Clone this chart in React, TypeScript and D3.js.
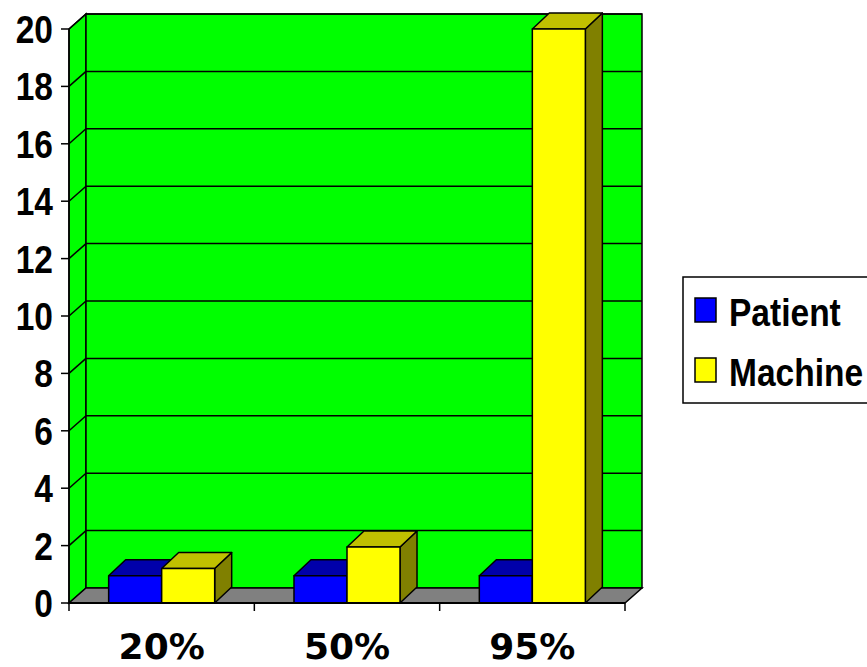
import React from "react";
import * as d3 from "d3";

const categories = ["20%", "50%", "95%"];
const seriesNames = ["Patient", "Machine"];
const patientValues = [0.95, 0.95, 0.95];
const machineValues = [1.2, 1.95, 20];
const yTicks = [0, 2, 4, 6, 8, 10, 12, 14, 16, 18, 20];

const faceColors: Record<string, { front: string; top: string; side: string }> = {
  Patient: { front: "#0000ff", top: "#0000aa", side: "#000080" },
  Machine: { front: "#ffff00", top: "#c0c000", side: "#808000" },
};

const App = () => {
  const width = 867;
  const height = 667;
  // front plane of the plot
  const left = 69;
  const right = 625;
  const bottom = 603;
  const top = 29;
  // depth offset of the 3D box
  const dx = 17;
  const dy = -15;

  const yScale = d3.scaleLinear().domain([0, 20]).range([bottom, top]);
  const xScale = d3.scaleBand().domain(categories).range([left, right]).padding(0);
  const xInner = d3
    .scaleBand()
    .domain(seriesNames)
    .range([0, xScale.bandwidth()])
    .paddingInner(0)
    .paddingOuter(0.748);

  const values: Record<string, number[]> = { Patient: patientValues, Machine: machineValues };

  const poly = (pts: [number, number][]) => pts.map((p) => p.join(",")).join(" ");

  // condensed bold look: Liberation Sans squeezed horizontally
  const sans = "'Liberation Sans', Arial, sans-serif";
  const squeeze = 0.86;

  return (
    <svg width={width} height={height} style={{ display: "block", position: "absolute", left: 0, top: 0 }}>
      <rect width={width} height={height} fill="#fff" />
      {/* left wall */}
      <polygon
        points={poly([
          [left, bottom],
          [left + dx, bottom + dy],
          [left + dx, top + dy],
          [left, top],
        ])}
        fill="#00ff00"
        stroke="#000"
        strokeWidth={1.5}
      />
      {/* back wall */}
      <rect
        x={left + dx}
        y={top + dy}
        width={right - left}
        height={bottom - top}
        fill="#00ff00"
        stroke="#000"
        strokeWidth={1.5}
      />
      {/* gridlines */}
      {yTicks.slice(1).map((t) => (
        <g key={t}>
          <line x1={left} y1={yScale(t)} x2={left + dx} y2={yScale(t) + dy} stroke="#000" strokeWidth={1.5} />
          <line x1={left + dx} y1={yScale(t) + dy} x2={right + dx} y2={yScale(t) + dy} stroke="#000" strokeWidth={1.5} />
        </g>
      ))}
      {/* floor */}
      <polygon
        points={poly([
          [left, bottom],
          [right, bottom],
          [right + dx, bottom + dy],
          [left + dx, bottom + dy],
        ])}
        fill="#808080"
        stroke="#000"
        strokeWidth={1.5}
      />
      {/* bars */}
      {categories.map((c, i) =>
        seriesNames.map((s) => {
          const x0 = (xScale(c) as number) + (xInner(s) as number);
          const x1 = x0 + xInner.bandwidth();
          const yt = yScale(values[s][i]);
          const col = faceColors[s];
          const bdy = -16;
          return (
            <g key={c + s} stroke="#000" strokeWidth={1.5} strokeLinejoin="round">
              <polygon
                points={poly([
                  [x1, yt],
                  [x1 + dx, yt + bdy],
                  [x1 + dx, bottom + bdy],
                  [x1, bottom],
                ])}
                fill={col.side}
              />
              <polygon
                points={poly([
                  [x0, yt],
                  [x0 + dx, yt + bdy],
                  [x1 + dx, yt + bdy],
                  [x1, yt],
                ])}
                fill={col.top}
              />
              <rect x={x0} y={yt} width={x1 - x0} height={bottom - yt} fill={col.front} />
            </g>
          );
        })
      )}
      {/* y axis */}
      <line x1={left} y1={top} x2={left} y2={bottom} stroke="#000" strokeWidth={1.5} />
      {yTicks.map((t) => (
        <g key={t}>
          <line x1={left - 8} y1={yScale(t)} x2={left} y2={yScale(t)} stroke="#000" strokeWidth={1.5} />
          <text
            transform={`translate(53,${yScale(t) + 14}) scale(${squeeze},1)`}
            textAnchor="end"
            fontFamily={sans}
            fontWeight="bold"
            fontSize={39}
            fill="#000"
          >
            {t}
          </text>
        </g>
      ))}
      {/* x axis */}
      <line x1={left} y1={bottom} x2={right} y2={bottom} stroke="#000" strokeWidth={2} />
      {[...categories.map((c) => xScale(c) as number), right].map((x, i) => (
        <line key={i} x1={x} y1={bottom} x2={x} y2={bottom + 8} stroke="#000" strokeWidth={1.5} />
      ))}
      {categories.map((c) => (
        <text
          key={c}
          x={(xScale(c) as number) + xScale.bandwidth() / 2}
          y={659}
          textAnchor="middle"
          fontFamily="'DejaVu Sans', sans-serif"
          fontWeight="bold"
          fontSize={36}
          fill="#000"
        >
          {c}
        </text>
      ))}
      {/* legend */}
      <rect x={683} y={277} width={200} height={126} fill="#fff" stroke="#000" strokeWidth={1.5} />
      {seriesNames.map((s, i) => (
        <g key={s}>
          <rect x={695} y={298 + i * 60} width={21} height={24} fill={faceColors[s].front} stroke="#000" strokeWidth={1.5} />
          <text
            transform={`translate(729,${326 + i * 60}) scale(${squeeze},1)`}
            fontFamily={sans}
            fontWeight="bold"
            fontSize={39}
            fill="#000"
          >
            {s}
          </text>
        </g>
      ))}
    </svg>
  );
};

export default App;
